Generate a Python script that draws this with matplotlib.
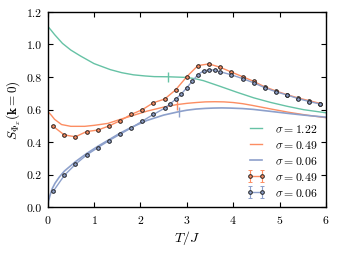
import matplotlib
matplotlib.use("Agg")
import matplotlib.pyplot as plt
import numpy as np

plt.rcParams['font.family'] = 'serif'
plt.rcParams['font.serif'] = ['cmr10', 'DejaVu Serif']
plt.rcParams['mathtext.fontset'] = 'cm'
plt.rcParams['axes.unicode_minus'] = False
plt.rcParams['axes.formatter.use_mathtext'] = True

# colours
c_green = '#66c2a5'
c_orange = '#fc8d62'
c_blue = '#8da0cb'

# theory curves
T_green = [0, 0.08, 0.15, 0.32, 0.5, 0.7, 1.0, 1.35, 1.6, 1.85, 2.1, 2.3, 2.6, 3.0, 3.2, 3.36, 3.72, 4.08, 4.44, 4.8, 5.16, 5.52, 6.0]
S_green = [1.112, 1.085, 1.06, 1.006, 0.965, 0.93, 0.882, 0.845, 0.826, 0.813, 0.806, 0.802, 0.801, 0.797, 0.788, 0.777, 0.742, 0.706, 0.672, 0.644, 0.62, 0.599, 0.58]

T_orange = [0, 0.08, 0.15, 0.3, 0.5, 0.8, 1.0, 1.3, 1.6, 1.8, 2.14, 2.5, 2.78, 3.0, 3.2, 3.4, 3.6, 3.8, 4.0, 4.2, 4.4, 4.8, 5.2, 5.6, 6.0]
S_orange = [0.59, 0.565, 0.54, 0.508, 0.497, 0.497, 0.503, 0.515, 0.543, 0.56, 0.59, 0.615, 0.63, 0.638, 0.643, 0.647, 0.648, 0.647, 0.643, 0.636, 0.626, 0.604, 0.583, 0.565, 0.55]

T_blue = [0, 0.02, 0.054, 0.1, 0.16, 0.25, 0.36, 0.6, 0.84, 1.08, 1.33, 1.56, 1.8, 2.14, 2.5, 2.83, 3.0, 3.2, 3.4, 3.57, 3.75, 3.93, 4.2, 4.43, 4.8, 5.16, 5.52, 6.0]
S_blue = [0, 0.04, 0.075, 0.115, 0.148, 0.185, 0.222, 0.28, 0.33, 0.374, 0.416, 0.455, 0.49, 0.533, 0.566, 0.587, 0.596, 0.603, 0.607, 0.609, 0.61, 0.609, 0.606, 0.601, 0.589, 0.577, 0.566, 0.553]

# critical temperature markers on the theory curves
Tc = [2.6, 2.78, 2.83]
Sc = [0.801, 0.630, 0.587]

# simulation data
T_d_orange = [0.12, 0.36, 0.60, 0.84, 1.08, 1.32, 1.56, 1.80, 2.04, 2.28, 2.52, 2.76, 3.00,
              3.24, 3.48, 3.72, 3.96, 4.20, 4.44, 4.68, 4.92, 5.16, 5.40, 5.64, 5.88]
S_d_orange = [0.497, 0.444, 0.433, 0.465, 0.474, 0.499, 0.531, 0.570, 0.599, 0.642, 0.664, 0.721, 0.802,
              0.870, 0.880, 0.859, 0.830, 0.802, 0.773, 0.739, 0.714, 0.691, 0.671, 0.654, 0.637]
E_d_orange = [0.006] * len(T_d_orange)

T_d_blue = [0.12, 0.36, 0.60, 0.84, 1.08, 1.32, 1.56, 1.80, 2.04, 2.28, 2.52, 2.64, 2.76, 2.88, 3.00,
            3.12, 3.24, 3.36, 3.48, 3.60, 3.72, 3.96, 4.20, 4.44, 4.68, 4.92, 5.16, 5.40, 5.64, 5.88]
S_d_blue = [0.098, 0.196, 0.264, 0.321, 0.366, 0.409, 0.448, 0.487, 0.529, 0.570, 0.608, 0.634, 0.664, 0.695, 0.734,
            0.775, 0.814, 0.838, 0.843, 0.842, 0.832, 0.813, 0.790, 0.764, 0.734, 0.709, 0.689, 0.667, 0.649, 0.633]
E_d_blue = [0.006] * len(T_d_blue)

labels = [r'$\sigma = 1.22$', r'$\sigma = 0.49$', r'$\sigma = 0.06$', r'$\sigma = 0.49$', r'$\sigma = 0.06$']

fig = plt.figure(figsize=(3.4, 2.55), dpi=100)
ax = fig.add_axes([0.14, 0.183, 0.819, 0.767])

ax.plot(T_green, S_green, color=c_green, lw=1.0, label=labels[0])
ax.plot(T_orange, S_orange, color=c_orange, lw=1.0, label=labels[1])
ax.plot(T_blue, S_blue, color=c_blue, lw=1.2, label=labels[2])
for t, s, c in zip(Tc, Sc, [c_green, c_orange, c_blue]):
    ax.plot([t], [s], marker='|', ms=7, mew=1.0, color=c)

ax.errorbar(T_d_orange, S_d_orange, yerr=E_d_orange, color=c_orange, lw=1.0, marker='o', ms=2.6,
            mfc=c_orange, mec='#222222', mew=0.7, capsize=1.5, elinewidth=0.8, label=labels[3])
ax.errorbar(T_d_blue, S_d_blue, yerr=E_d_blue, color=c_blue, lw=1.0, marker='o', ms=2.6,
            mfc=c_blue, mec='#222222', mew=0.7, capsize=1.5, elinewidth=0.8, label=labels[4])

ax.set_xlim(0, 6)
ax.set_ylim(0, 1.2)
ax.set_xticks(np.arange(0, 7, 1))
ax.set_yticks(np.arange(0, 1.21, 0.2))
ax.set_yticklabels(['0.0', '0.2', '0.4', '0.6', '0.8', '1.0', '1.2'])
ax.tick_params(direction='in', top=True, right=True, labelsize=8.5, length=3.5, width=0.8, pad=4)
for sp in ax.spines.values():
    sp.set_linewidth(1.0)

ax.set_xlabel(r'$T/J$', fontsize=10, labelpad=2)
ax.set_ylabel(r'$S_{\Phi_x}(\mathbf{k}=0)$', fontsize=9.5, labelpad=3)

ax.legend(loc='lower right', frameon=False, fontsize=8.5, numpoints=2, handlelength=1.6,
          handletextpad=0.8, labelspacing=0.35, borderaxespad=0.35)

fig.savefig('out.png', dpi=100)
